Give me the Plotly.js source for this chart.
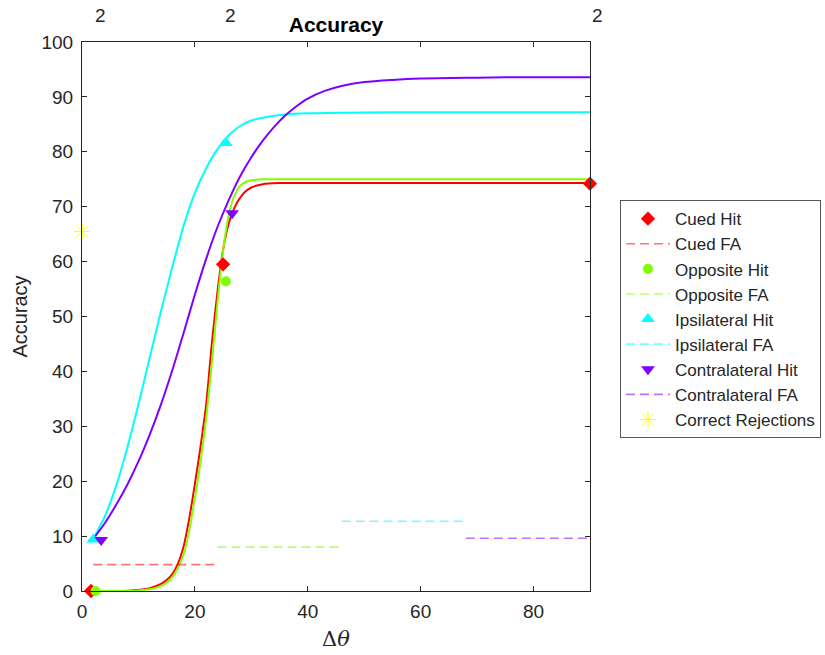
<!DOCTYPE html>
<html>
<head>
<meta charset="utf-8">
<script src="https://cdn.plot.ly/plotly-3.0.1.min.js"></script>
<style>html,body{margin:0;padding:0;background:#fff;}#chart{width:825px;height:655px;}</style>
</head>
<body>
<div id="chart"></div>
<script>
// ---- data ----
// fitted curves (sampled)
var redCurveX   = [2, 6, 10, 12, 14, 15, 16, 17, 18, 19, 20, 21, 22, 23, 24, 25, 26, 27, 28, 29, 30, 32, 35, 40, 50, 60, 70, 80, 90];
var redCurveY   = [0, 0, 0.2, 0.5, 1.3, 2, 3.1, 5, 8.1, 13.2, 19.5, 26.3, 34, 45, 54.5, 62.2, 67, 69.8, 71.6, 72.8, 73.5, 74.1, 74.3, 74.3, 74.3, 74.3, 74.3, 74.3, 74.3];
var greenCurveX = [2, 6, 10, 12, 14, 15, 16, 17, 18, 19, 20, 21, 22, 23, 24, 25, 26, 27, 28, 29, 30, 32, 35, 40, 50, 60, 70, 80, 90];
var greenCurveY = [0, 0, 0.1, 0.3, 0.9, 1.5, 2.5, 4.2, 6.6, 11, 17, 23.5, 31.5, 41.5, 52.5, 62, 68.5, 72, 73.8, 74.5, 74.8, 75, 75, 75, 75, 75, 75, 75, 75];
var cyanCurveX  = [2, 4, 6, 8, 10, 12, 14, 16, 18, 20, 22, 24, 26, 28, 30, 33, 36, 40, 50, 60, 70, 80, 90];
var cyanCurveY  = [9.5, 13.5, 19, 26, 34, 42.5, 51, 59, 66.5, 72.5, 77, 80.5, 83, 84.7, 85.7, 86.4, 86.8, 87, 87.15, 87.2, 87.2, 87.2, 87.2];
var purpCurveX  = [2, 4, 6, 8, 10, 12, 14, 16, 18, 20, 22, 24, 26, 28, 30, 32, 34, 36, 38, 40, 43, 46, 50, 55, 60, 70, 80, 90];
var purpCurveY  = [9.5, 12.3, 15.6, 19.3, 23.6, 28.5, 34, 40.2, 47, 54, 60.5, 66.3, 71.2, 75.5, 79, 82, 84.5, 86.6, 88.3, 89.7, 91.1, 92, 92.7, 93.1, 93.35, 93.5, 93.6, 93.6];

// hit points
var cuedHitX = [1.6, 25, 90];
var cuedHitY = [0, 59.5, 74.2];
var oppHitX  = [2.4, 25.5];
var oppHitY  = [0, 56.4];
var ipsiHitX = [2, 25.5];
var ipsiHitY = [9.4, 81.6];
var contraHitX = [3.4, 26.6];
var contraHitY = [9.3, 68.8];
var crX = [0];
var crY = [65.5];

// false alarm levels
var cuedFAX = [2, 24];    var cuedFAY = [4.8, 4.8];
var oppFAX  = [24, 46];   var oppFAY  = [8, 8];
var ipsiFAX = [46, 68];   var ipsiFAY = [12.7, 12.7];
var contraFAX = [68, 90]; var contraFAY = [9.6, 9.6];

// count labels (above the axes)
var countX = [2, 25, 90];
var countText = ['2', '2', '2'];

var xTicks = [0, 20, 40, 60, 80];
var yTicks = [0, 10, 20, 30, 40, 50, 60, 70, 80, 90, 100];

// ---- styling ----
var RED = '#FF0000', GREEN = '#80FF00', CYAN = '#00FFFF', PURPLE = '#8000FF', YELLOW = '#FFFF00';
var txt = '#262626';
var dashPat = '9px,5px';

function curve(x, y, c) {
  return {x: x, y: y, mode: 'lines', line: {color: c, width: 2, shape: 'spline', smoothing: 0.8}, showlegend: false, hoverinfo: 'skip', cliponaxis: false};
}
function hits(x, y, name, c, sym, sz) {
  return {x: x, y: y, name: name, mode: 'markers', cliponaxis: false,
          marker: {color: c, symbol: sym, size: sz, line: {width: 0}}};
}
function fa(x, y, name, c) {
  return {x: x, y: y, name: name, mode: 'lines', cliponaxis: false, opacity: 0.55,
          line: {color: c, width: 1.6, dash: dashPat}};
}

var traces = [
  curve(redCurveX, redCurveY, RED),
  curve(greenCurveX, greenCurveY, GREEN),
  curve(cyanCurveX, cyanCurveY, CYAN),
  curve(purpCurveX, purpCurveY, PURPLE),
  hits(cuedHitX, cuedHitY, 'Cued Hit', RED, 'diamond', 11),
  fa(cuedFAX, cuedFAY, 'Cued FA', RED),
  hits(oppHitX, oppHitY, 'Opposite Hit', GREEN, 'circle', 10),
  fa(oppFAX, oppFAY, 'Opposite FA', GREEN),
  hits(ipsiHitX, ipsiHitY, 'Ipsilateral Hit', CYAN, 'triangle-up', 12),
  fa(ipsiFAX, ipsiFAY, 'Ipsilateral FA', CYAN),
  hits(contraHitX, contraHitY, 'Contralateral Hit', PURPLE, 'triangle-down', 12),
  fa(contraFAX, contraFAY, 'Contralateral FA', PURPLE),
  {x: crX, y: crY, name: 'Correct Rejections', mode: 'markers', cliponaxis: false,
   marker: {symbol: 'asterisk-open', size: 14, color: YELLOW, line: {color: YELLOW, width: 1}}}
];

var annotations = countX.map(function (xv, i) {
  return {x: xv, y: 1.049, xref: 'x', yref: 'paper', text: countText[i], showarrow: false,
          xanchor: 'left', yanchor: 'middle', font: {family: 'Liberation Sans, Arial', size: 19, color: txt}};
});

var axisCommon = {
  showgrid: false, zeroline: false, showline: true, linecolor: txt, linewidth: 1,
  mirror: 'ticks', ticks: 'inside', ticklen: 5, tickcolor: txt, tickwidth: 1,
  tickfont: {family: 'Liberation Sans, Arial', size: 19, color: txt}
};

var layout = {
  width: 825, height: 655,
  margin: {l: 82, r: 235, t: 42, b: 64, autoexpand: false},
  paper_bgcolor: '#fff', plot_bgcolor: '#fff',
  font: {family: 'Liberation Sans, Arial', color: txt},
  title: {text: '<b>Accuracy</b>', font: {size: 21, color: '#000'}, xref: 'paper', x: 0.5, xanchor: 'center',
          yref: 'container', y: 0.962, yanchor: 'middle'},
  xaxis: Object.assign({}, axisCommon, {range: [0, 90], tickvals: xTicks, ticktext: xTicks.map(String), ticklabelstandoff: 3,
          title: {text: 'Δ<i>θ</i>', font: {family: 'DejaVu Serif, Liberation Serif', size: 21, color: txt}, standoff: 10}}),
  yaxis: Object.assign({}, axisCommon, {range: [0, 100], tickvals: yTicks, ticktext: yTicks.map(String), ticklabelstandoff: 4,
          title: {text: 'Accuracy', font: {size: 20, color: txt}, standoff: 8}}),
  legend: {x: 1.059, y: 0.712, xanchor: 'left', yanchor: 'top', bgcolor: '#fff', itemwidth: 44,
           bordercolor: '#555', borderwidth: 1, font: {size: 17, color: txt}, tracegroupgap: 0},
  annotations: annotations,
  showlegend: true
};

Plotly.newPlot('chart', traces, layout, {displayModeBar: false, staticPlot: true});
</script>
</body>
</html>
